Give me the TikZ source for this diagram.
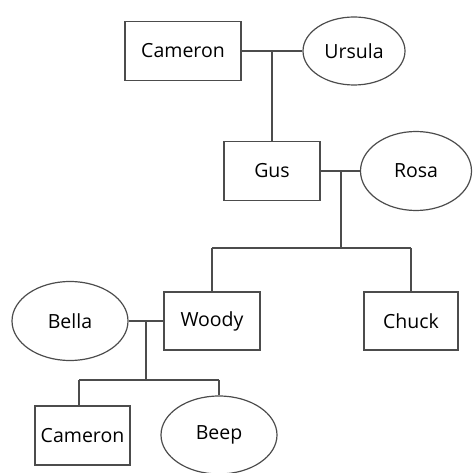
\documentclass[tikz,border=0pt]{standalone}
\usepackage{fontspec}
\setmainfont{Open Sans}
\usetikzlibrary{shapes.geometric}
\begin{document}
\begin{tikzpicture}[x=1pt,y=1pt,
  person/.style={draw=black!70, line width=1.2pt, rectangle, inner sep=0pt, font=\fontsize{19.5}{22}\selectfont, text=black},
  spouse/.style={draw=black!70, line width=1.2pt, ellipse, inner sep=0pt, font=\fontsize{19.5}{22}\selectfont, text=black},
  link/.style={draw=black!70, line width=1.2pt}]
\useasboundingbox (0,0) rectangle (474,472);
% generation 1
\node[person, minimum width=116pt, minimum height=59pt] (cam1) at (183,421) {Cameron};
\node[spouse, minimum width=102pt, minimum height=68pt] (urs) at (354,421) {Ursula};
% generation 2
\node[person, minimum width=96pt, minimum height=59pt] (gus) at (272,301) {Gus};
\node[spouse, minimum width=111pt, minimum height=79pt] (rosa) at (416,301) {Rosa};
% generation 3
\node[person, minimum width=96pt, minimum height=58pt] (woody) at (212,151) {Woody};
\node[person, minimum width=94pt, minimum height=58pt] (chuck) at (411,151) {Chuck};
\node[spouse, minimum width=116pt, minimum height=79pt] (bella) at (70,151) {Bella};
% generation 4
\node[person, minimum width=95pt, minimum height=59pt] (cam2) at (82.5,36.5) {Cameron};
\node[spouse, minimum width=116pt, minimum height=78pt] (beep) at (219,37) {Beep};
% couple lines
\draw[link] (cam1.east) -- (urs.west);
\coordinate (m1) at (272,421);
\draw[link] (m1) -- (gus.north);
\draw[link] (gus.east) -- (rosa.west);
\coordinate (m2) at (341,301);
\coordinate (b2) at (341,224);
\coordinate (b2l) at (212,224);
\coordinate (b2r) at (411,224);
\draw[link] (m2) -- (b2);
\draw[link] (b2l) -- (b2r);
\draw[link] (b2l) -- (woody.north);
\draw[link] (b2r) -- (chuck.north);
\draw[link] (bella.east) -- (woody.west);
\coordinate (m3) at (146,151);
\coordinate (b3) at (146,92);
\coordinate (b3l) at (79,92);
\coordinate (b3r) at (219,92);
\draw[link] (m3) -- (b3);
\draw[link] (b3l) -- (b3r);
\draw[link] (b3l) -- (cam2.north -| b3l);
\draw[link] (b3r) -- (beep.north);
\end{tikzpicture}
\end{document}
